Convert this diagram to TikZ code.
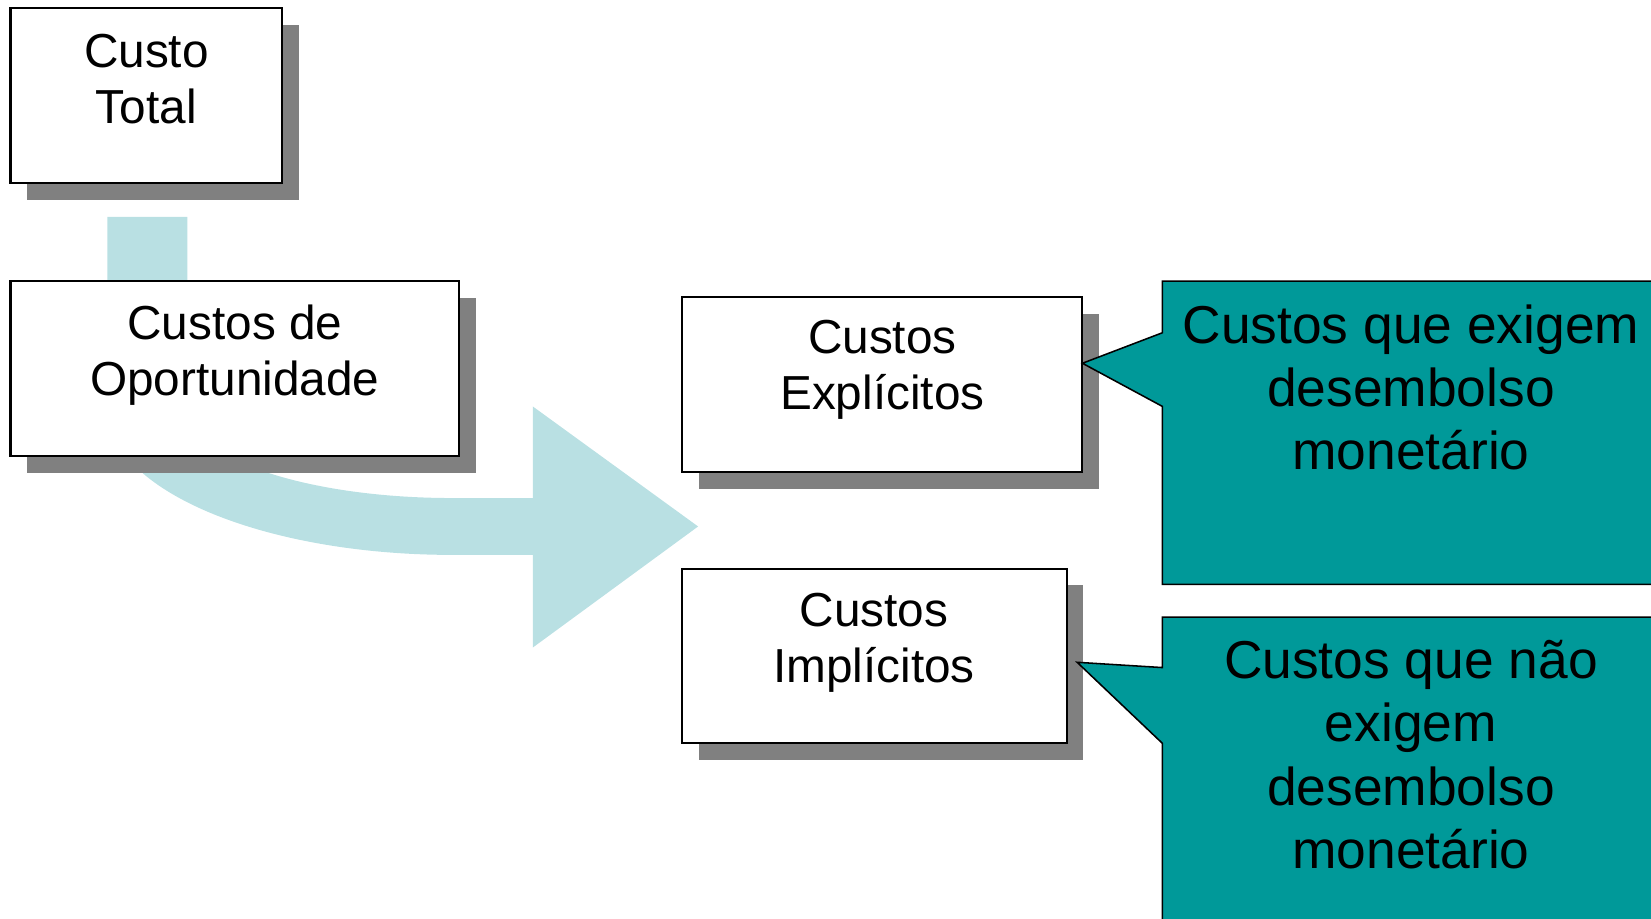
\documentclass[tikz,border=0pt]{standalone}
\usepackage{fontspec}
\setmainfont{Liberation Sans}
\usepackage{tikz}

\definecolor{shaftblue}{RGB}{185,224,227}
\definecolor{calloutteal}{RGB}{0,153,153}
\definecolor{shadowgray}{RGB}{128,128,128}

\begin{document}
\begin{tikzpicture}[x=0.75pt,y=0.75pt,yscale=-1,xscale=1,
  boxline/.style={draw=black,fill=white,line width=1.5pt},
  boxshadow/.style={fill=shadowgray},
  calloutline/.style={draw=black,fill=calloutteal,line width=1.1pt,line join=miter},
  boxtext/.style={anchor=north,align=center,inner sep=0pt,font=\fontsize{34}{40}\selectfont},
  callouttext/.style={anchor=north,align=center,inner sep=0pt,font=\fontsize{38}{45}\selectfont}]
\useasboundingbox (0,0) rectangle (1568,872);
\clip (0,0) rectangle (1568,872);

%Shape: Curved Right Arrow
\fill[shaftblue] (102,206) -- (178,206) -- (178,388) .. controls (178,435) and (291,473) .. (430,473) -- (506,473) -- (506,386) -- (663,500) -- (506,615) -- (506,527) -- (430,527) .. controls (249,527) and (102,465) .. (102,388) -- cycle ;

%Shape: Rectangle [Custo Total]
\fill[boxshadow] (26,24) rectangle (284,190) ;
\draw[boxline] (10,8) rectangle (268,174) ;
%Shape: Rectangle [Custos de Oportunidade]
\fill[boxshadow] (26,283) rectangle (452,449) ;
\draw[boxline] (10,267) rectangle (436,433) ;
%Shape: Rectangle [Custos Explicitos]
\fill[boxshadow] (664,298) rectangle (1044,464) ;
\draw[boxline] (648,282) rectangle (1028,448) ;
%Shape: Rectangle [Custos Implicitos]
\fill[boxshadow] (664,556) rectangle (1029,722) ;
\draw[boxline] (648,540) rectangle (1013,706) ;

\coordinate (explicitotip) at (1028,345) ;
\coordinate (implicitotip) at (1023,629) ;

%Shape: Callout [explicitos]
\draw[calloutline] (1104,316) -- (1104,267) -- (1580,267) -- (1580,555) -- (1104,555) -- (1104,386) -- (explicitotip) -- cycle ;
%Shape: Callout [implicitos]
\draw[calloutline] (1104,634) -- (1104,586) -- (1580,586) -- (1580,890) -- (1104,890) -- (1104,706) -- (implicitotip) -- cycle ;

% Text Node
\node[boxtext] (total) at (139,32) {Custo\\Total};
% Text Node
\node[boxtext] (oportunidade) at (223,289) {Custos de\\Oportunidade};
% Text Node
\node[boxtext] (explicitos) at (838,304) {Custos\\Explícitos};
% Text Node
\node[boxtext] (implicitos) at (830,563) {Custos\\Implícitos};
% Text Node
\node[callouttext] (desembolso) at (1340,289) {Custos que exigem\\desembolso\\monetário};
% Text Node
\node[callouttext] (semdesembolso) at (1340,608) {Custos que não\\exigem\\desembolso\\monetário};

\end{tikzpicture}
\end{document}
